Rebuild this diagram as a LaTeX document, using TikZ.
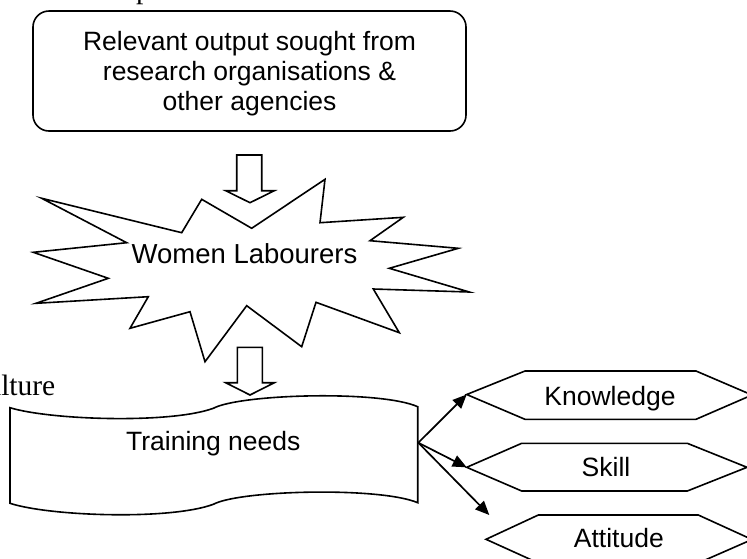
\documentclass[tikz,border=0pt]{standalone}
\usepackage{fontspec}
\setmainfont{Liberation Sans}
\newfontfamily\timesfont{Liberation Serif}
\usetikzlibrary{arrows.meta}
\begin{document}
\begin{tikzpicture}[x=1pt,y=-1pt,
  lbl/.style={font=\fontsize{26.5}{30}\selectfont, inner sep=0pt},
  serifbit/.style={font=\timesfont\fontsize{29.5}{31}\selectfont, inner sep=0pt},
  outline/.style={draw=black, line width=1.6pt, line join=miter, miter limit=20},
  blockarrow/.style={draw=black, line width=1.6pt, fill=white, line join=miter},
  link/.style={draw=black, line width=1.7pt, -{Triangle[length=14pt,width=12pt]}}]
\useasboundingbox (0,0) rectangle (747,558);

% cut-off text fragments
\node[serifbit, anchor=base west] (ptop) at (136,-1.5) {p};
\node[serifbit, anchor=base east] (agri) at (55.5,395) {agriculture};

% top rounded box
\node[outline, rounded corners=16pt, minimum width=433pt, minimum height=120pt, inner sep=0pt] (src) at (249.5,71) {};
\node[lbl, align=center] (srctext) at (249.5,73.3) {Relevant output sought from\\research organisations \&\\other agencies};

% block arrow 1
\draw[blockarrow] (236.7,155) -- (261.7,155) -- (261.7,190.7) -- (274.3,190.7) -- (250,202.7) -- (225.7,190.7) -- (236.7,190.7) -- cycle;

% star
\draw[outline, fill=white] (201.7,199.3) -- (251.7,228.3) -- (325,179.3) -- (320,222.7) -- (403.3,217.3) -- (370,240.7)
  -- (458.3,248.3) -- (389.3,268.3) -- (469.3,292) -- (373.3,289) -- (399.3,332.7) -- (316,302.3)
  -- (301.7,346.7) -- (246.7,305.7) -- (205,361.7) -- (190,311.7) -- (130,328.3) -- (148.3,296.7)
  -- (36,303.3) -- (108.3,278.3) -- (33.3,252.3) -- (126.7,242.7) -- (41.7,198.3) -- (181.7,232.7) -- cycle;
\node[lbl, anchor=base, font=\fontsize{27.5}{30}\selectfont] (star) at (244.5,263.3) {Women Labourers};

% block arrow 2
\draw[blockarrow] (237.3,347.3) -- (262.3,347.3) -- (262.3,382.7) -- (274.3,382.7) -- (250,395) -- (225.7,382.7) -- (237.3,382.7) -- cycle;

% training needs wave shape
\draw[outline] (10,407.7) .. controls (50,420) and (170,424) .. (213.3,408.3)
  .. controls (240,394) and (380,390) .. (417.7,406.7) -- (417.7,502.7)
  .. controls (380,486.7) and (240,490) .. (213.3,504.3)
  .. controls (170,520.3) and (50,516.3) .. (10,503.3) -- cycle;
\node[lbl, anchor=base] (tn) at (213.3,450) {Training needs};
\coordinate (tnR) at (418.3,442.7);

% hexagons
\draw[outline] (466.7,394.5) -- (525,371) -- (696,371) -- (752,395) -- (696,419.3) -- (525,419.3) -- cycle;
\coordinate (knowL) at (466.7,394.5);
\node[lbl, anchor=base] (know) at (610,405) {Knowledge};

\draw[outline] (466.7,467.3) -- (521.7,443.3) -- (687.3,443.3) -- (747,467.3) -- (687.3,491) -- (521.7,491) -- cycle;
\coordinate (skillL) at (466.7,467.3);
\node[lbl, anchor=base] (skill) at (606,476.7) {Skill};

\draw[outline] (486,539.3) -- (538.3,515) -- (698.3,515) -- (752,539.5) -- (698.3,563) -- (538.3,563) -- cycle;
\coordinate (attL) at (489.3,515);
\node[lbl, anchor=base] (att) at (618.8,547.7) {Attitude};

% links
\draw[link] (tnR) -- (knowL);
\draw[link] (tnR) -- (skillL);
\draw[link] (tnR) -- (attL);
\end{tikzpicture}
\end{document}
